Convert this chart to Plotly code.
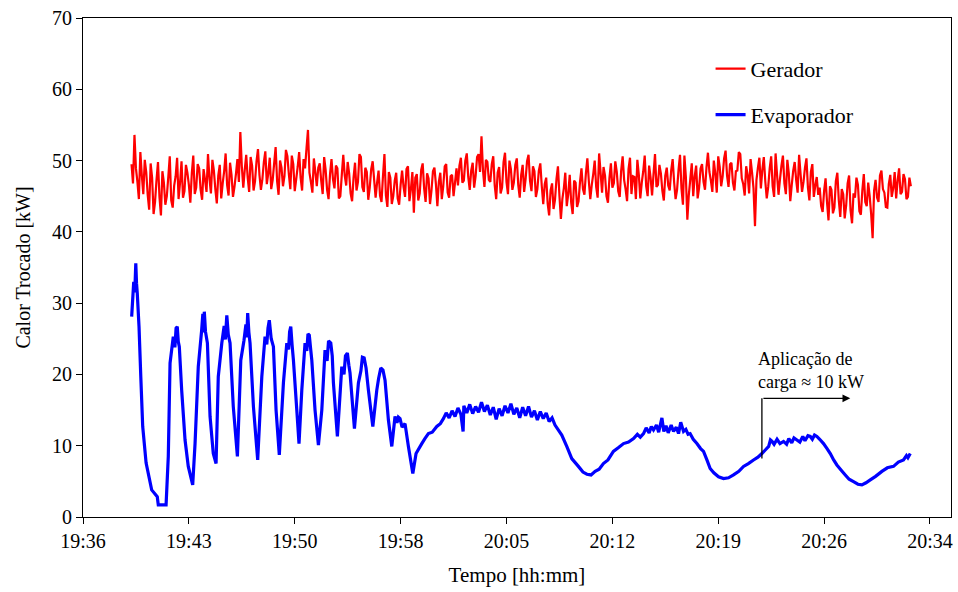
import plotly.graph_objects as go

# ---------------- data ----------------
# time axis: minutes after 19:36
tick_vals_min = [0, 7.2, 14.4, 21.6, 28.8, 36.0, 43.2, 50.4, 57.6]
tick_labels = ["19:36", "19:43", "19:50", "19:58", "20:05", "20:12", "20:19", "20:26", "20:34"]

# Gerador: regularly sampled between 3.3 min and 56.3 min after 19:36
gerador_t_start = 3.3
gerador_t_end = 56.3
gerador_kw = [
    49.5, 46.8, 53.6, 48.9, 47.0, 44.6, 51.2, 47.9, 45.3, 50.1,
    48.4, 45.2, 43.1, 49.6, 47.6, 42.5, 44.2, 47.3, 49.8, 44.9, 42.3, 48.5, 46.9, 43.8, 45.0, 47.7, 50.6, 44.4, 43.4, 46.5,
    47.8, 50.4, 44.6, 46.9, 49.9, 44.8, 45.7, 49.4, 48.3, 46.6, 44.1, 48.2, 50.7, 45.3, 46.2, 49.5, 48.9, 45.9, 44.5, 48.8,
    47.3, 45.6, 50.9, 47.5, 45.4, 50.1, 48.6, 46.0, 44.0, 47.9, 49.4, 44.7, 46.8, 48.5, 51.0, 46.6, 45.1, 49.7, 48.0, 44.9,
    46.3, 48.1, 50.2, 47.0, 54.0, 49.2,
    46.2, 48.7, 50.8, 47.6, 45.6, 50.5, 49.3, 45.8, 47.1, 49.9, 51.6, 48.0, 45.9, 47.4, 49.8, 51.3, 46.7, 48.2, 50.4, 46.0,
    47.3, 49.6, 51.9, 47.1, 45.2, 50.0, 49.0, 46.4, 47.8, 51.5, 50.6, 48.1, 46.0, 50.7, 49.5, 45.7, 47.4, 49.1, 51.2, 47.6,
    45.8, 50.2, 48.9, 51.7, 54.3, 48.3, 47.0, 45.5, 50.3, 48.4, 46.4, 49.0,
    49.6, 47.2, 45.3, 50.5, 48.7, 45.9, 44.6, 48.1, 50.2, 47.4, 46.1, 49.3, 48.9, 44.7, 45.0, 48.0, 50.8, 47.9, 46.5, 49.8,
    48.2, 45.4, 44.3, 47.6, 49.7, 45.8, 47.0, 50.9, 50.5, 46.3, 45.6, 49.0, 48.4, 44.5, 46.2, 48.8, 49.9, 47.3, 44.8, 46.9,
    48.6, 45.1,
    44.2, 47.8, 50.9, 45.1, 43.5, 48.4, 47.6, 43.9, 45.0, 47.2, 48.3, 44.7, 43.8, 46.6,
    48.6, 46.3, 44.9, 48.8, 49.2, 44.3, 46.0, 48.4, 42.7, 47.6, 48.1, 44.4, 45.4, 48.7, 49.6, 46.1, 44.2, 48.2, 47.5, 43.9,
    45.8, 48.5, 49.0, 46.7, 43.6, 47.0, 48.3, 44.6, 46.4, 49.2, 49.5, 45.5, 44.8, 47.8, 48.0, 45.0, 46.9, 48.9,
    46.5, 49.3, 50.4, 46.9, 47.2, 50.0, 51.0, 47.7, 45.9, 48.6, 49.7, 46.2, 47.8, 50.5, 50.9, 48.4, 53.4, 48.7, 46.3, 50.1,
    49.8, 47.3,
    47.0, 49.5, 50.6, 46.5, 44.6, 48.3, 49.1, 45.4, 46.2, 49.8, 51.1, 47.0, 45.3, 50.0, 48.8, 45.9, 46.9, 49.4, 50.3, 46.6,
    44.8, 48.0, 49.4, 45.6, 47.4, 49.9, 50.8, 47.2, 45.7, 49.2, 48.5, 44.9, 46.0, 48.6, 49.6, 46.4,
    43.9, 46.7, 47.6, 44.0, 42.3, 45.8, 46.8, 43.2, 44.5, 47.4, 49.2, 45.1, 41.8, 44.6, 46.1, 48.3, 43.6, 45.3, 48.0, 44.1,
    42.5, 47.2, 46.9, 43.5, 44.3, 47.0,
    48.9, 46.0, 45.2, 48.2, 50.3, 47.1, 44.6, 46.6, 48.1, 50.0, 46.3, 44.8, 51.0, 48.3, 45.5, 49.1, 47.9, 45.0, 44.1, 47.5,
    49.6, 46.2, 46.8, 49.9, 48.4, 45.7, 44.9, 48.6, 50.6, 47.3, 46.0, 44.3, 48.8, 50.4, 45.3, 47.8, 47.7, 44.6, 50.1, 48.0,
    44.7, 46.9, 48.5, 50.7, 46.4, 45.0, 49.3, 47.6, 45.1, 48.1, 50.9, 46.3, 46.6, 49.4, 48.2, 45.8, 44.4, 47.9, 49.0, 46.5,
    45.8, 48.6, 50.2, 47.0, 44.6, 45.9, 48.7, 50.8, 46.1, 43.8, 50.7, 47.7, 41.7, 45.2, 47.4, 49.6, 45.0, 47.8, 49.3, 44.7,
    46.2, 48.9,
    49.5, 47.0, 45.9, 49.0, 51.1, 48.4, 47.2, 45.6, 50.0, 48.2, 45.5, 50.6, 49.1, 46.4, 47.8, 50.3, 51.4, 47.9, 46.3, 49.5,
    49.7, 46.9, 45.8, 48.5, 48.6, 51.2, 50.9, 47.5, 46.7, 45.1, 49.2, 48.0, 45.4, 50.2, 48.3, 46.1, 40.8, 47.3, 49.0, 50.4,
    46.1, 48.7, 50.5, 47.1, 44.7, 46.3, 48.9, 50.6, 46.4, 44.9, 51.0, 48.0, 45.2, 47.4, 49.3, 50.7, 46.8, 45.3, 50.1, 48.2,
    44.3, 46.6, 48.6, 49.8, 47.3, 45.5, 50.8, 48.1, 45.6, 47.0, 49.0, 50.3, 46.2, 44.4, 48.4, 49.5, 44.9, 46.5, 47.7, 45.2,
    46.2, 43.6, 42.8, 45.7, 47.5, 44.1, 41.6, 46.4, 45.9, 42.6, 43.4, 47.1, 48.3, 44.4, 42.1, 46.0, 45.3, 41.9, 43.7, 46.8,
    47.9, 43.0, 41.2, 45.4, 44.8, 47.6, 46.6, 42.9, 42.4, 45.8, 48.1, 44.2, 43.6, 46.9,
    45.0, 42.5, 39.1, 45.8, 47.3, 44.8, 44.2, 47.9, 48.6, 46.0, 45.5, 43.5, 43.4, 46.7, 48.0, 44.9, 46.1, 48.4, 44.7, 47.2,
    48.9, 45.3, 45.6, 48.1, 47.4, 44.6, 44.9, 47.6, 46.4,
]

# Evaporador: read-off points (minutes after 19:36, kW)
evap_t = [
    3.31, 3.45, 3.52, 3.59, 3.64, 3.69, 3.81, 3.93, 4.06, 4.29, 4.67, 5.05, 5.12, 5.65,
    5.80, 5.92, 6.14, 6.25, 6.33, 6.41, 6.48, 6.55, 6.71, 6.94, 7.16, 7.46,
    7.62, 7.84, 8.07, 8.15, 8.20, 8.25, 8.33, 8.46, 8.64, 8.86, 9.05,
    9.20, 9.44, 9.60, 9.68, 9.78, 9.88, 10.00, 10.22, 10.50,
    10.73, 10.95, 11.08, 11.14, 11.20, 11.28, 11.36, 11.59, 11.88,
    12.16, 12.38, 12.50, 12.58, 12.67, 12.80, 12.95, 13.13, 13.35,
    13.63, 13.86, 13.98, 14.05, 14.13, 14.22, 14.31, 14.54, 14.69,
    14.88, 15.10, 15.22, 15.30, 15.39, 15.48, 15.56, 15.78, 16.01,
    16.24, 16.46, 16.60, 16.70, 16.85, 16.95, 17.03, 17.30,
    17.60, 17.75, 17.85, 17.98, 18.08, 18.16, 18.46,
    18.73, 18.90, 19.00, 19.12, 19.25, 19.41, 19.71,
    19.98, 20.10, 20.25, 20.40, 20.54, 20.77, 21.00,
    21.22, 21.35, 21.45, 21.56, 21.70, 21.90, 22.13, 22.43, 22.65,
    23.04, 23.25, 23.49, 23.75, 24.06, 24.30, 24.51,
    24.7, 24.9, 25.1, 25.3, 25.5, 25.7, 25.85, 25.9, 26.1, 26.3, 26.5, 26.7, 26.9,
    27.1, 27.3, 27.5, 27.7, 27.9, 28.1, 28.3, 28.5, 28.7, 28.9,
    29.1, 29.3, 29.5, 29.7, 29.9, 30.1, 30.3, 30.5, 30.7, 30.9,
    31.1, 31.3, 31.5, 31.7, 31.9, 32.1,
    32.56, 32.90, 33.24, 33.69, 34.0, 34.27, 34.55, 34.83, 35.1, 35.39, 35.7,
    36.07, 36.4, 36.76, 37.1, 37.44, 37.7, 37.9, 38.12, 38.3, 38.5, 38.65, 38.80,
    39.0, 39.15, 39.37, 39.5, 39.65, 39.8, 40.0, 40.16, 40.35, 40.5, 40.65, 40.84,
    41.0, 41.15, 41.29, 41.5, 41.75, 42.0, 42.20, 42.45, 42.65, 42.9, 43.22,
    43.56, 43.9, 44.24, 44.6, 44.92, 45.25, 45.60, 45.9, 46.17, 46.40, 46.63,
    46.75, 46.86, 47.0, 47.2, 47.4, 47.64, 47.85, 48.0, 48.2, 48.35, 48.55,
    48.75, 48.95, 49.1, 49.3, 49.46, 49.6, 49.75, 49.91, 50.1, 50.36, 50.6,
    50.82, 51.05, 51.27, 51.55, 51.84, 52.1, 52.40, 52.7, 52.97, 53.25, 53.54,
    53.9, 54.33, 54.7, 55.12, 55.45, 55.80, 56.0, 56.1, 56.26,
]
evap_kw = [
    28.1, 33.0, 31.5, 35.6, 32.8, 31.4, 26.7, 19.7, 12.7, 7.6, 3.8, 2.85, 1.7, 1.7,
    8.5, 21.6, 25.3, 23.8, 26.5, 26.7, 24.6, 23.9, 17.8, 10.8, 7.1, 4.5,
    10.3, 21.1, 26.2, 28.5, 25.9, 28.8, 26.0, 24.4, 14.1, 8.9, 7.5,
    19.7, 24.4, 26.8, 24.9, 28.3, 25.6, 24.4, 15.5, 8.5,
    22.0, 24.8, 27.0, 25.2, 28.6, 25.9, 24.4, 15.5, 8.0,
    19.7, 25.3, 24.2, 26.5, 27.6, 25.0, 23.9, 15.0, 8.7,
    18.8, 24.4, 23.5, 26.0, 26.7, 24.1, 22.0, 15.0, 10.3,
    17.8, 24.4, 23.3, 25.7, 25.5, 23.6, 22.0, 15.0, 10.1,
    15.0, 23.4, 21.9, 24.7, 24.4, 22.6, 18.8, 11.3,
    21.1, 20.0, 22.6, 23.0, 21.3, 20.2, 12.4,
    18.8, 20.5, 22.4, 22.3, 20.9, 17.8, 12.7,
    17.8, 19.4, 20.9, 20.6, 19.2, 13.6, 9.9,
    14.1, 13.2, 14.0, 13.8, 12.6, 13.1, 9.9, 6.1, 8.9,
    10.3, 11.0, 11.7, 11.9, 12.7, 13.1, 13.8,
    14.6, 13.9, 14.9, 14.1, 15.3, 14.4, 12.0, 15.6, 14.6, 15.8, 14.5, 15.5, 14.7,
    16.1, 14.8, 15.7, 14.3, 15.4, 13.7, 15.2, 14.2, 15.6, 14.6,
    15.9, 14.4, 15.3, 13.9, 15.4, 14.2, 15.5, 14.0, 14.9, 13.6,
    14.8, 13.8, 14.6, 13.4, 13.9, 12.9,
    11.5, 9.9, 8.2, 7.1, 6.3, 6.0, 5.9, 6.4, 6.7, 7.5, 8.0,
    9.2, 9.7, 10.3, 10.5, 11.0, 11.6, 11.2, 11.7, 12.5, 11.8, 12.7, 12.2,
    12.9, 11.9, 13.9, 12.0, 12.8, 11.8, 12.9, 12.0, 12.6, 11.7, 13.3, 12.0,
    12.3, 11.6, 11.7, 10.9, 10.3, 9.6, 9.2, 7.9, 6.8, 6.2, 5.65,
    5.4, 5.5, 5.9, 6.4, 7.1, 7.5, 8.0, 8.4, 8.9, 9.4, 9.9,
    10.8, 10.6, 10.2, 10.9, 10.3, 10.6, 10.2, 11.0, 10.4, 11.1, 10.8,
    10.5, 11.3, 10.7, 11.4, 11.3, 10.9, 11.5, 11.3, 10.9, 10.3, 9.6,
    8.9, 8.0, 7.3, 6.6, 5.9, 5.3, 4.95, 4.6, 4.5, 4.8, 5.2,
    5.7, 6.4, 6.9, 7.1, 7.7, 8.0, 8.6, 8.3, 8.9,
]

# annotation: load application
load_t = 46.17
load_kw_low = 8.2
load_kw_high = 16.65
load_arrow_end_t = 52.18
annot_text = "Aplicação de<br>carga ≈ 10 kW"

# ---------------- figure ----------------
n_g = len(gerador_kw)
gerador_t = [gerador_t_start + i * (gerador_t_end - gerador_t_start) / (n_g - 1) for i in range(n_g)]

FONT = "Liberation Serif, Times New Roman, serif"

fig = go.Figure()
fig.add_trace(go.Scatter(x=gerador_t, y=gerador_kw, mode="lines", name="Gerador",
                         line=dict(color="#FF0000", width=2.2, simplify=False), legend="legend"))
fig.add_trace(go.Scatter(x=evap_t, y=evap_kw, mode="lines", name="Evaporador",
                         line=dict(color="#0000FF", width=3.2, simplify=False), legend="legend2"))

fig.add_shape(type="line", x0=load_t, x1=load_t, y0=load_kw_low, y1=load_kw_high,
              xref="x", yref="y", line=dict(color="black", width=1.3))
fig.add_annotation(x=load_arrow_end_t, y=load_kw_high, ax=load_t, ay=load_kw_high,
                   xref="x", yref="y", axref="x", ayref="y", text="",
                   showarrow=True, arrowhead=2, arrowsize=1.2, arrowwidth=1.3,
                   arrowcolor="black")
fig.add_annotation(x=45.75, y=20.5, xref="x", yref="y", text=annot_text,
                   showarrow=False, xanchor="left", yanchor="middle", align="left",
                   font=dict(family=FONT, size=18, color="black"))

axis_common = dict(showline=True, linecolor="black", linewidth=1, mirror=True,
                   ticks="outside", ticklen=6, tickcolor="black", showgrid=False,
                   zeroline=False, tickfont=dict(family=FONT, size=20, color="black"))

fig.update_xaxes(range=[0, 59.03], tickmode="array", tickvals=tick_vals_min,
                 ticktext=tick_labels,
                 title=dict(text="Tempo [hh:mm]", font=dict(family=FONT, size=21, color="black"),
                            standoff=16),
                 **axis_common)
fig.update_yaxes(range=[0, 70], dtick=10, tick0=0,
                 title=dict(text="Calor Trocado [kW]", font=dict(family=FONT, size=20, color="black"),
                            standoff=16),
                 **axis_common)

legend_common = dict(bgcolor="rgba(0,0,0,0)", font=dict(family=FONT, size=22, color="black"),
                     xanchor="left", yanchor="middle", itemwidth=30)
fig.update_layout(
    width=958, height=592,
    margin=dict(l=83, r=7, t=18, b=75, autoexpand=False),
    paper_bgcolor="white", plot_bgcolor="white",
    showlegend=True,
    legend=dict(x=0.723, y=0.898, **legend_common),
    legend2=dict(x=0.723, y=0.806, **legend_common),
)

fig.write_html("out.html")
